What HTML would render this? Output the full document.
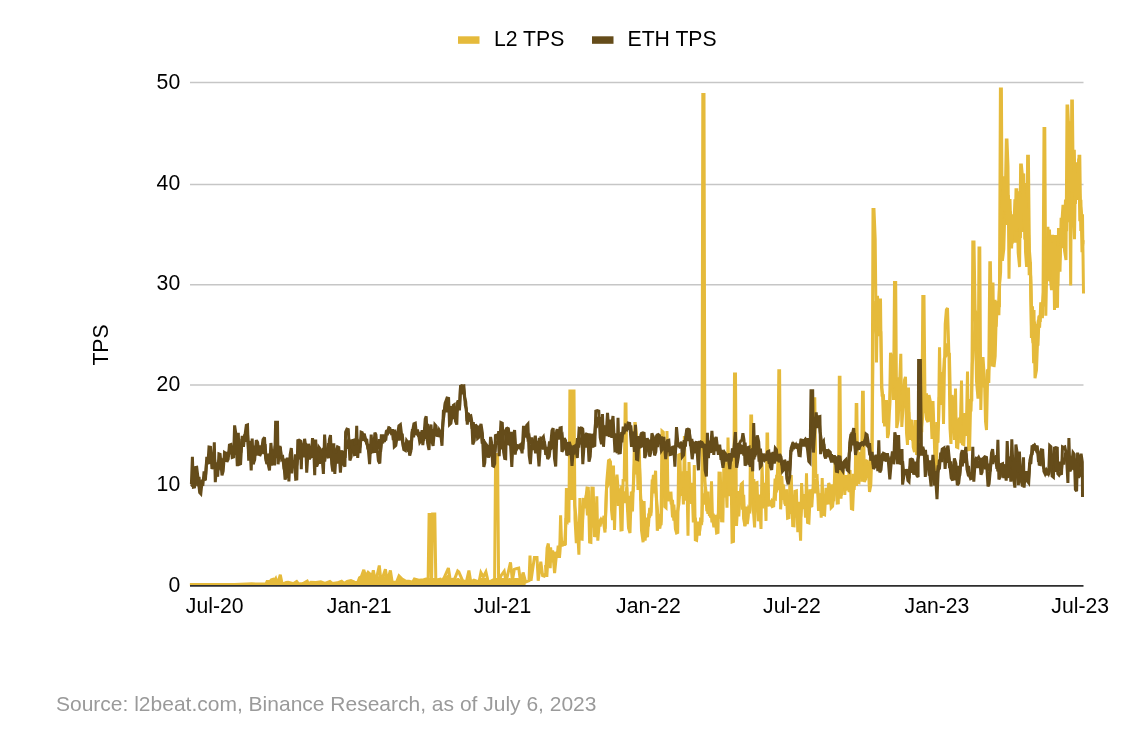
<!DOCTYPE html>
<html><head><meta charset="utf-8"><style>
html,body{margin:0;padding:0;background:#fff;width:1134px;height:730px;overflow:hidden}
svg{display:block;will-change:transform}
text{font-family:"Liberation Sans",sans-serif;fill:#000;font-size:21.2px}
.src{font-family:"Liberation Sans",sans-serif;fill:#9a9a9a;font-size:21px}
</style></head><body>
<svg width="1134" height="730" viewBox="0 0 1134 730">
<rect width="1134" height="730" fill="#fff"/>
<line x1="190" x2="1083.5" y1="485.40" y2="485.40" stroke="#c6c6c6" stroke-width="1.5"/><line x1="190" x2="1083.5" y1="385.10" y2="385.10" stroke="#c6c6c6" stroke-width="1.5"/><line x1="190" x2="1083.5" y1="284.70" y2="284.70" stroke="#c6c6c6" stroke-width="1.5"/><line x1="190" x2="1083.5" y1="184.50" y2="184.50" stroke="#c6c6c6" stroke-width="1.5"/><line x1="190" x2="1083.5" y1="82.45" y2="82.45" stroke="#c6c6c6" stroke-width="1.5"/>
<rect x="458" y="36.3" width="21.5" height="7.5" fill="#E5BA3B"/>
<text x="494" y="45.8">L2 TPS</text>
<rect x="592" y="36.3" width="21.5" height="7.5" fill="#654C1A"/>
<text x="627.5" y="45.8">ETH TPS</text>
<text x="180.2" y="592.0" text-anchor="end">0</text><text x="180.2" y="491.4" text-anchor="end">10</text><text x="180.2" y="390.8" text-anchor="end">20</text><text x="180.2" y="290.2" text-anchor="end">30</text><text x="180.2" y="189.6" text-anchor="end">40</text><text x="180.2" y="89.0" text-anchor="end">50</text>
<text x="214.7" y="613.2" text-anchor="middle">Jul-20</text><text x="359.2" y="613.2" text-anchor="middle">Jan-21</text><text x="502.5" y="613.2" text-anchor="middle">Jul-21</text><text x="648.5" y="613.2" text-anchor="middle">Jan-22</text><text x="791.9" y="613.2" text-anchor="middle">Jul-22</text><text x="937" y="613.2" text-anchor="middle">Jan-23</text><text x="1080.2" y="613.2" text-anchor="middle">Jul-23</text>
<text transform="translate(108.3,345) rotate(-90)" text-anchor="middle">TPS</text>
<polyline points="189.9,584.6 212.2,584.4 234.4,584.6 246.7,584.1 251.7,583.8 259.1,584.1 265.9,584.1 267.1,581.5 270.2,581.2 271.4,579.7 273.3,579.1 274.5,580.3 275.7,578.5 277.0,582.8 278.8,579.7 280.3,574.8 281.9,582.8 283.8,583.6 286.2,582.4 288.1,582.2 293.6,583.6 296.7,581.5 298.6,584.0 302.3,583.6 303.5,583.4 307.2,581.2 308.5,584.0 310.9,582.2 315.9,582.4 320.8,581.9 324.9,583.4 329.9,581.5 332.3,583.4 337.3,582.8 341.6,581.3 344.1,583.4 347.2,581.3 350.9,580.6 354.6,582.2 357.7,582.5 359.5,577.8 361.4,576.6 363.8,569.8 365.7,576.6 368.1,572.3 370.0,574.1 371.2,580.3 373.3,570.4 375.6,582.2 379.3,565.5 381.1,582.2 385.4,569.2 387.3,581.5 390.4,570.4 392.2,582.2 396.5,582.2 399.0,576.0 402.1,579.1 405.2,580.9 408.9,581.3 412.6,582.2 414.4,579.1 418.8,580.3 423.7,579.7 426.8,578.8 428.1,582.0 429.1,514.5 430.6,514.5 431.4,582.5 431.6,582.5 432.6,514.0 434.8,514.0 435.8,580.1 440.4,579.1 442.2,580.9 444.1,577.8 448.4,568.0 450.2,579.7 454.6,579.1 457.7,571.0 458.8,571.9 462.6,580.7 466.3,582.0 468.9,570.6 470.8,582.0 473.9,580.1 479.0,582.0 480.9,572.5 483.4,576.9 485.9,571.9 488.4,582.6 492.8,580.1 494.6,580.7 495.6,454.6 497.6,454.6 498.6,582.0 501.0,575.7 504.2,571.2 506.1,582.0 508.6,570.6 510.5,562.4 512.4,580.7 514.3,569.4 516.2,568.7 518.7,568.1 520.6,582.6 523.1,572.5 525.6,582.0 529.0,580.7 530.0,555.5 531.0,580.7 534.4,557.4 537.0,557.4 538.2,580.7 540.8,561.8 542.6,575.7 544.2,576.2 545.8,573.1 547.1,547.9 548.3,543.5 550.2,568.1 550.8,551.7 552.7,551.7 554.6,573.1 556.5,554.2 558.1,554.7 559.6,553.9 560.6,515.2 561.6,544.0 562.9,543.5 564.1,544.5 565.4,544.0 566.4,488.0 567.6,493.4 568.9,522.6 569.9,389.5 571.0,500.0 572.0,389.5 573.0,500.0 574.0,389.5 575.0,519.0 576.3,543.1 577.6,530.6 578.9,554.7 579.9,498.0 580.9,539.0 582.1,539.2 583.3,499.4 584.5,499.6 585.8,498.8 587.0,488.0 588.3,488.3 589.6,542.1 590.9,542.4 591.9,488.0 593.2,488.1 594.5,535.7 595.8,535.8 596.8,496.3 597.8,540.7 599.3,522.1 600.9,519.3 602.1,521.5 603.4,521.0 605.0,532.5 606.7,482.3 608.5,460.6 609.5,460.1 610.5,462.0 611.5,509.9 612.5,520.0 613.5,465.5 614.5,530.0 615.8,484.2 617.0,474.6 618.0,488.4 619.0,490.0 620.0,496.5 621.0,530.0 622.1,529.8 623.1,480.2 624.2,480.0 625.2,404.0 626.0,404.0 627.0,500.0 628.5,527.9 630.0,533.0 631.3,491.6 632.5,511.4 633.8,470.0 634.8,423.6 635.3,423.6 636.6,435.4 638.0,490.0 639.0,440.0 640.0,476.4 641.5,530.5 643.1,542.2 644.1,501.0 645.1,540.6 646.3,525.6 647.5,537.2 648.7,515.5 649.9,516.0 651.1,511.6 652.3,486.3 653.4,474.9 654.5,482.1 655.6,470.7 657.3,530.7 658.5,523.0 659.8,528.6 661.0,520.9 662.0,431.0 663.3,432.1 664.7,506.6 666.0,507.7 667.0,431.0 668.0,501.0 669.5,493.1 671.0,493.0 672.5,517.3 673.9,504.7 675.4,529.0 676.5,532.9 677.7,532.4 678.7,455.0 679.9,454.5 681.0,496.0 682.2,475.7 683.4,504.4 684.4,436.0 685.6,500.6 686.8,471.1 688.0,535.7 689.0,462.0 690.4,501.8 691.9,482.7 693.3,522.5 694.3,465.0 695.3,539.8 696.6,540.3 697.9,524.4 699.3,535.4 700.6,519.5 701.9,520.0 702.8,94.5 704.0,94.5 704.9,480.0 706.6,502.8 707.9,513.7 709.2,506.7 710.5,517.6 711.5,481.4 712.5,517.6 713.9,527.2 715.2,519.1 716.6,532.9 718.0,532.4 719.0,473.0 720.3,473.1 721.6,520.8 722.9,520.9 723.9,460.0 725.5,468.0 727.0,507.7 728.0,437.6 729.4,496.2 730.8,456.9 732.1,541.9 733.5,541.4 734.5,374.0 735.5,374.0 736.5,525.8 737.7,505.4 738.8,516.4 740.0,496.0 741.2,484.1 742.4,483.0 743.6,518.7 744.9,525.8 746.1,515.2 747.3,524.0 748.6,508.8 749.8,509.3 750.8,416.0 751.6,416.0 753.1,506.6 754.6,527.4 755.6,483.0 757.0,482.5 758.3,521.3 759.6,502.2 761.0,529.0 762.0,463.3 763.3,501.3 764.7,482.9 766.0,520.9 767.0,434.0 767.6,434.0 768.6,501.0 769.9,505.2 771.2,500.5 772.4,506.5 773.7,506.0 775.1,478.5 776.4,492.5 777.8,465.0 778.8,370.7 779.6,370.7 780.6,509.3 782.0,488.1 783.5,484.7 784.9,504.3 786.2,489.8 787.6,518.1 789.0,517.6 790.0,476.4 791.3,476.5 792.7,525.7 794.0,525.8 795.0,491.3 796.4,490.8 797.8,532.2 799.2,512.0 800.6,540.6 801.6,483.0 802.9,506.4 804.2,494.2 805.5,517.6 806.5,473.2 807.5,522.5 808.9,523.0 810.4,490.8 811.8,507.0 813.2,484.7 814.2,398.7 814.8,398.7 815.8,476.4 817.1,475.9 818.5,510.9 819.9,493.4 821.2,517.6 822.2,478.0 823.2,514.3 824.6,514.8 826.0,487.8 827.3,501.7 828.7,483.0 830.0,486.4 831.2,507.7 832.6,506.3 834.0,493.0 835.0,462.0 836.1,461.9 837.2,503.1 838.3,503.0 839.3,377.2 840.0,377.2 841.0,498.7 842.0,474.2 843.0,470.0 844.8,495.0 846.0,475.0 847.0,488.5 848.0,490.0 849.0,472.5 850.0,470.0 851.4,508.6 852.7,509.1 853.9,479.5 855.2,480.0 856.2,404.5 856.8,404.5 857.8,482.0 859.0,482.5 860.3,469.5 861.5,470.0 862.5,392.3 863.3,392.3 864.3,482.0 865.6,479.1 867.0,460.0 868.2,464.9 869.5,492.0 870.8,485.1 872.0,450.0 873.0,209.6 874.0,209.6 875.2,238.7 876.5,362.6 877.5,295.8 878.5,324.7 879.5,330.0 880.5,298.5 881.5,387.6 882.5,393.2 883.5,423.0 885.0,421.0 886.5,400.0 887.5,438.0 888.5,433.9 889.5,410.0 890.5,352.8 892.0,360.7 893.5,400.0 894.5,282.5 895.7,282.5 896.7,428.0 898.2,419.9 899.8,380.0 900.8,353.7 901.8,427.0 903.5,400.0 904.5,380.0 905.5,376.9 906.5,432.9 907.5,445.0 908.5,387.6 909.5,440.0 910.8,422.5 912.0,420.0 913.2,447.1 914.5,452.0 915.5,420.0 916.5,455.0 917.8,439.8 919.1,451.5 920.5,429.5 921.8,430.0 922.8,296.4 924.0,296.4 925.0,400.0 926.5,419.1 928.0,422.0 929.0,395.0 930.5,402.3 932.0,439.0 933.0,401.0 934.0,430.0 935.1,466.3 936.2,473.5 937.4,432.4 938.5,424.0 939.5,347.3 940.5,391.0 941.5,400.0 942.5,372.0 943.5,424.0 945.2,324.0 946.4,309.7 947.5,308.0 949.0,357.0 950.0,428.1 951.0,444.0 952.0,395.0 953.2,402.5 954.5,440.0 955.5,388.5 956.5,447.0 957.8,447.5 959.2,419.5 960.5,420.0 961.5,380.5 962.5,444.0 963.8,444.5 965.2,419.5 966.5,420.0 967.5,371.5 968.5,449.6 969.6,449.4 970.7,400.2 971.8,400.0 972.8,242.0 974.0,242.0 975.0,304.0 976.5,381.2 978.0,398.6 979.0,248.0 979.8,248.0 980.8,410.0 981.9,366.1 983.0,357.0 984.5,380.0 985.5,421.5 986.5,430.0 987.6,378.9 988.8,368.0 989.8,262.8 990.4,262.8 992.0,366.6 993.0,282.5 994.0,367.0 995.2,356.2 996.5,305.5 998.0,304.5 999.4,305.0 1000.4,89.0 1001.4,89.0 1002.4,260.7 1003.8,249.1 1005.3,195.0 1006.3,140.0 1007.0,140.0 1008.0,166.3 1009.0,278.8 1010.0,199.0 1011.0,236.5 1012.0,244.0 1013.0,216.0 1014.0,219.8 1015.0,242.6 1016.0,189.7 1016.8,189.7 1018.2,253.0 1019.6,267.0 1020.6,165.0 1021.4,165.0 1022.5,176.9 1023.5,232.0 1024.5,183.0 1025.5,251.7 1026.6,267.0 1027.6,156.2 1028.4,156.2 1029.4,250.0 1030.5,263.9 1031.5,327.0 1033.0,343.0 1034.0,310.0 1035.0,378.2 1036.5,370.1 1038.0,330.0 1039.0,317.3 1040.0,316.0 1041.5,314.3 1043.0,300.0 1044.0,128.5 1044.8,128.5 1045.8,315.8 1046.9,261.7 1048.0,250.0 1049.5,229.5 1050.5,279.4 1051.5,290.0 1052.5,234.9 1053.5,248.4 1054.5,310.0 1055.5,234.9 1056.5,294.7 1057.5,307.8 1058.5,228.0 1059.5,267.3 1060.5,234.4 1061.5,228.0 1063.0,204.8 1064.5,250.5 1066.0,260.0 1067.0,106.0 1067.7,106.0 1069.2,140.4 1070.7,285.4 1071.7,101.0 1072.4,101.0 1073.5,213.1 1074.5,239.3 1075.5,163.7 1076.8,169.5 1078.0,200.0 1079.0,156.2 1079.8,156.2 1080.8,231.0 1082.5,214.3 1083.5,293.6" fill="none" stroke="#E5BA3B" stroke-width="3" stroke-linejoin="miter" stroke-miterlimit="3"/>
<polygon points="189.9,584.6 212.2,584.4 234.4,584.6 246.7,584.1 251.7,583.8 259.1,584.1 265.9,584.1 267.1,581.5 270.2,581.2 271.4,579.7 273.3,579.1 274.5,580.3 275.7,578.5 277.0,582.8 278.8,579.7 280.3,574.8 281.9,582.8 283.8,583.6 286.2,582.4 288.1,582.2 293.6,583.6 296.7,581.5 298.6,584.0 302.3,583.6 303.5,583.4 307.2,581.2 308.5,584.0 310.9,582.2 315.9,582.4 320.8,581.9 324.9,583.4 329.9,581.5 332.3,583.4 337.3,582.8 341.6,581.3 344.1,583.4 347.2,581.3 350.9,580.6 354.6,582.2 357.7,582.5 359.5,577.8 361.4,576.6 363.8,574.0 365.7,576.6 368.1,574.0 370.0,574.1 371.2,580.3 373.3,574.0 375.6,582.2 379.3,574.0 381.1,582.2 385.4,574.0 387.3,581.5 390.4,574.0 392.2,582.2 396.5,582.2 399.0,576.0 402.1,579.1 405.2,580.9 408.9,581.3 412.6,582.2 414.4,579.1 418.8,580.3 423.7,579.7 426.8,578.8 428.1,582.0 429.1,578.0 430.6,578.0 431.4,582.5 431.6,582.5 432.6,578.0 434.8,578.0 435.8,580.1 440.4,579.1 442.2,580.9 444.1,577.8 448.4,574.0 450.2,579.7 454.6,579.1 457.7,578.0 458.8,578.0 462.6,580.7 466.3,582.0 468.9,578.0 470.8,582.0 473.9,580.1 479.0,582.0 480.9,578.0 483.4,578.0 485.9,578.0 488.4,582.6 492.8,580.1 494.6,580.7 495.6,578.0 497.6,578.0 498.6,582.0 501.0,578.0 504.2,578.0 506.1,582.0 508.6,578.0 510.5,578.0 512.4,580.7 514.3,578.0 516.2,578.0 518.7,578.0 520.6,582.6 523.1,578.0 525.6,582.0 525.6,585.3 189.9,585.3" fill="#E5BA3B" stroke="none"/>
<polyline points="545.5,565.0 546.8,576.9 548.1,556.4 549.3,557.0 550.6,547.4 551.9,562.2 553.2,552.0 554.4,556.9 555.7,552.0 557.0,557.8 558.2,545.7 559.5,557.9 560.8,537.3 562.0,546.3 563.3,541.0 564.6,545.6 565.9,520.9 567.1,521.9 568.4,492.1 569.7,498.1 570.9,447.7 572.2,455.4 573.5,445.7 574.7,505.3 576.0,516.8 577.3,536.3 578.6,521.9 579.8,538.2 581.1,519.4 582.4,522.6 583.6,500.0 584.9,508.2 586.2,495.5 587.4,515.4 588.7,490.7 590.0,509.4 591.3,501.0 592.5,527.4 593.8,506.3 595.1,527.3 596.3,514.3 597.6,532.5 598.9,520.6 600.1,526.5 601.4,518.2 602.7,523.1 604.0,515.8 605.2,528.7 606.5,488.4 607.8,485.1 609.0,469.4 610.3,485.4 611.6,468.5 612.8,502.1 614.1,484.9 615.4,502.6 616.7,483.8 617.9,505.9 619.2,492.7 620.5,506.7 621.7,485.7 623.0,503.2 624.3,491.4 625.5,503.2 626.8,487.4 628.1,512.0 629.4,495.8 630.6,512.8 631.9,493.9 633.2,490.8 634.4,464.4 635.7,474.3 637.0,455.9 638.2,473.1 639.5,467.0 640.8,499.3 642.1,502.0 643.3,526.7 644.6,520.6 645.9,537.6 647.1,517.5 648.4,526.4 649.7,507.9 650.9,515.8 652.2,479.5 653.5,493.4 654.8,478.4 656.0,493.2 657.3,507.5 658.6,525.4 659.8,514.0 661.1,525.3 662.4,487.6 663.6,486.1 664.9,465.1 666.2,484.9 667.5,489.8 668.7,501.0 670.0,493.6 671.3,504.4 672.5,499.9 673.8,520.6 675.1,510.5 676.3,524.8 677.6,511.2 678.9,504.3 680.2,485.5 681.4,486.7 682.7,471.3 684.0,487.3 685.2,480.3 686.5,489.7 687.8,475.3 689.0,501.0 690.3,493.0 691.6,503.8 692.9,487.9 694.1,517.2 695.4,518.7 696.7,534.4 697.9,521.6 699.2,535.4 700.5,520.8 701.7,522.1 703.0,493.4 704.3,504.6 705.6,487.2 706.8,511.1 708.1,491.7 709.4,516.0 710.6,502.7 711.9,522.3 713.2,513.7 714.4,525.8 715.7,514.9 717.0,527.4 718.3,513.7 719.5,518.7 720.8,490.3 722.1,494.1 723.3,482.2 724.6,497.5 725.9,473.1 727.1,481.3 728.4,468.5 729.7,495.6 731.0,471.4 732.2,478.2 733.5,485.7 734.8,517.7 736.0,505.1 737.3,503.8 738.6,491.2 739.8,503.0 741.1,496.4 742.4,509.7 743.7,494.8 744.9,526.5 746.2,506.7 747.5,523.1 748.7,508.5 750.0,510.3 751.3,493.9 752.5,496.6 753.8,479.2 755.1,501.1 756.4,490.5 757.6,510.8 758.9,494.7 760.2,507.5 761.4,497.9 762.7,508.4 764.0,487.2 765.2,491.6 766.5,481.7 767.8,506.3 769.1,501.1 770.3,503.9 771.6,501.2 772.9,503.9 774.1,498.2 775.4,498.9 776.7,474.9 777.9,490.1 779.2,475.7 780.5,493.5 781.8,476.2 783.0,499.8 784.3,490.1 785.6,505.9 786.8,489.3 788.1,502.3 789.4,495.0 790.6,514.0 791.9,498.5 793.2,504.2 794.5,495.0 795.7,517.5 797.0,507.4 798.3,524.2 799.5,501.8 800.8,516.6 802.1,501.7 803.3,509.1 804.6,497.8 805.9,514.9 807.2,502.9 808.4,513.4 809.7,489.4 811.0,507.3 812.2,489.0 813.5,493.2 814.8,478.7 816.0,493.4 817.3,481.3 818.6,499.4 819.9,493.6 821.1,509.8 822.4,500.5 823.7,513.2 824.9,495.9 826.2,504.6 827.5,492.7 828.7,504.4 830.0,491.2 831.3,500.5 832.6,484.3 833.8,501.2 835.1,487.0 836.4,487.8 837.6,475.4 838.9,489.7 840.2,471.2 841.4,495.8 842.7,469.8 844.0,485.7 845.3,477.8 846.5,487.5 847.8,476.7 849.1,492.1 850.3,481.0 851.6,493.9 852.9,473.8 854.1,489.8 855.4,473.8 856.7,485.9 858.0,463.4 859.2,478.5 860.5,451.7 861.8,481.6 863.0,465.9 864.3,471.7 865.6,459.4 866.8,477.8 868.1,465.9 869.4,477.7 870.7,452.9 871.9,463.9 873.2,334.6 874.5,319.7 875.7,301.0 877.0,314.6 878.3,312.1 879.5,336.2 880.8,331.3 882.1,396.4 883.4,394.4 884.6,426.5 885.9,410.8 887.2,420.9 888.4,406.8 889.7,407.5 891.0,378.5 892.2,383.8 893.5,364.2 894.8,385.0 896.1,383.2 897.3,390.6 898.6,377.4 899.9,410.1 901.1,395.1 902.4,400.6 903.7,385.9 904.9,406.6 906.2,397.8 907.5,417.7 908.8,412.1 910.0,433.0 911.3,421.0 912.6,440.9 913.8,427.5 915.1,443.9 916.4,436.4 917.6,445.2 918.9,430.9 920.2,448.6 921.5,427.3 922.7,416.8 924.0,401.1 925.3,413.2 926.5,393.3 927.8,420.5 929.1,402.9 930.3,421.4 931.6,408.8 932.9,431.9 934.2,425.7 935.4,446.2 936.7,422.2 938.0,442.8 939.2,397.2 940.5,404.8 941.8,380.3 943.0,381.5 944.3,358.6 945.6,356.1 946.9,343.5 948.1,354.7 949.4,354.5 950.7,410.1 951.9,398.3 953.2,427.7 954.5,418.3 955.7,439.2 957.0,418.8 958.3,435.1 959.6,418.5 960.8,443.3 962.1,425.8 963.4,435.5 964.6,413.0 965.9,436.0 967.2,418.1 968.4,430.4 969.7,407.4 971.0,411.4 972.3,364.0 973.5,350.2 974.8,328.2 976.1,312.3 977.3,313.6 978.6,352.0 979.9,355.0 981.1,380.9 982.4,366.7 983.7,387.4 985.0,383.2 986.2,390.0 987.5,369.3 988.8,382.9 990.0,334.1 991.3,347.5 992.6,322.0 993.8,325.3 995.1,311.6 996.4,310.7 997.7,301.1 998.9,315.1 1000.2,260.7 1001.5,240.7 1002.7,190.9 1004.0,191.4 1005.3,192.1 1006.5,219.4 1007.8,196.1 1009.1,213.6 1010.4,215.7 1011.6,236.7 1012.9,218.0 1014.2,226.2 1015.4,221.5 1016.7,231.5 1018.0,208.0 1019.2,209.4 1020.5,200.8 1021.8,218.1 1023.1,205.0 1024.3,211.6 1025.6,199.0 1026.9,225.7 1028.1,221.4 1029.4,263.5 1030.7,276.4 1031.9,322.8 1033.2,322.0 1034.5,344.2 1035.8,329.0 1037.0,344.3 1038.3,319.9 1039.6,327.7 1040.8,302.2 1042.1,311.4 1043.4,293.1 1044.6,289.8 1045.9,242.3 1047.2,256.8 1048.5,244.6 1049.7,267.8 1051.0,255.7 1052.3,260.3 1053.5,260.5 1054.8,277.0 1056.1,261.4 1057.3,278.6 1058.6,248.5 1059.9,257.5 1061.2,229.2 1062.4,242.6 1063.7,221.6 1065.0,221.4 1066.2,204.0 1067.5,222.3 1068.8,183.7 1070.0,165.8 1071.3,160.0 1072.6,187.5 1073.9,173.6 1075.1,186.0 1076.4,162.3 1077.7,191.6 1078.9,183.8 1080.2,204.3 1081.5,212.6 1082.7,244.0" fill="none" stroke="#E5BA3B" stroke-width="3" stroke-linejoin="miter" stroke-miterlimit="3"/>
<polyline points="990.7,304.7 991.8,349.2 992.9,304.3 994.0,358.7 995.1,299.7 996.2,326.6 997.3,302.6 998.4,310.9 999.5,283.4 1000.6,272.3 1001.7,196.8 1002.8,209.9 1003.9,176.4 1005.0,211.2 1006.1,183.7 1007.2,224.9 1008.3,195.1 1009.4,228.0 1010.5,211.4 1011.6,248.4 1012.7,214.4 1013.8,230.3 1014.9,199.4 1016.0,230.3 1017.1,203.6 1018.2,227.8 1019.3,191.4 1020.4,238.0 1021.5,197.3 1022.6,212.9 1023.7,173.4 1024.8,239.6 1025.9,197.2 1027.0,238.8 1028.1,208.7 1029.2,275.2 1030.3,261.9 1031.4,338.0 1032.5,306.2 1033.6,363.2 1034.7,321.5 1035.8,352.8 1036.9,323.9 1038.0,345.8 1039.1,315.5 1040.2,321.9 1041.3,302.8 1042.4,318.1 1043.5,294.9 1044.6,306.5 1045.7,237.6 1046.8,261.5 1047.9,226.9 1049.0,281.3 1050.1,240.5 1051.2,270.5 1052.3,243.0 1053.4,278.2 1054.5,240.1 1055.6,281.0 1056.7,246.4 1057.8,286.1 1058.9,246.4 1060.0,271.6 1061.1,217.7 1062.2,248.3 1063.3,222.9 1064.4,229.2 1065.5,199.6 1066.6,231.2 1067.7,188.1 1068.8,214.1 1069.9,121.2 1071.0,191.5 1072.1,180.2 1073.2,192.6 1074.3,149.7 1075.4,204.0 1076.5,173.2 1077.6,197.6 1078.7,158.6 1079.8,221.1 1080.9,199.7 1082.0,252.1 1083.1,240.2" fill="none" stroke="#E5BA3B" stroke-width="3" stroke-linejoin="miter" stroke-miterlimit="3"/>
<polyline points="191.4,484.0 192.4,456.9 193.4,487.1 194.5,486.9 195.6,467.5 196.7,467.3 198.6,482.7 199.7,492.6 200.8,493.8 202.1,481.2 203.5,479.1 204.6,479.3 205.7,474.1 206.8,456.8 207.9,464.3 209.0,447.0 210.5,447.2 211.9,467.7 213.3,468.0 214.3,442.3 215.3,482.1 216.5,466.8 217.7,476.7 218.9,453.9 220.1,454.4 222.0,475.4 223.2,471.1 224.5,452.5 225.7,453.4 226.9,461.8 228.2,459.1 229.4,445.1 230.8,444.6 232.2,457.4 233.6,456.9 234.6,425.4 235.9,434.1 237.3,466.1 238.3,432.8 239.3,464.3 240.6,463.7 241.9,440.1 243.2,439.6 244.7,437.5 246.3,425.4 247.5,424.9 248.7,460.7 250.0,446.4 251.2,470.4 252.2,438.6 253.2,464.3 254.7,459.7 256.3,440.2 257.6,442.3 259.0,454.4 260.2,454.9 261.4,451.9 263.0,439.5 264.5,437.4 265.6,458.1 266.6,463.0 268.0,463.4 269.5,470.4 270.9,443.0 272.2,457.6 273.4,450.9 274.6,465.5 275.6,422.3 277.5,422.3 278.1,464.3 279.9,445.8 281.2,457.0 282.4,458.7 283.8,462.4 285.1,479.7 286.2,475.6 287.3,457.5 288.9,481.5 290.1,454.9 291.3,448.0 292.4,461.7 293.5,464.3 294.6,464.0 295.7,479.3 296.8,479.1 297.8,440.6 299.1,440.1 300.3,440.8 301.3,469.2 301.8,453.0 303.2,451.0 304.6,438.8 305.7,445.8 306.7,472.7 308.6,443.8 310.4,458.0 311.5,454.5 312.5,438.2 313.6,446.0 314.7,475.2 315.7,439.5 316.7,466.6 317.9,463.3 319.0,447.5 320.3,449.3 321.8,454.0 323.4,474.0 324.6,434.5 325.7,451.7 326.8,455.5 328.3,458.0 329.4,439.3 330.5,435.1 331.7,463.9 332.8,471.5 333.8,443.2 334.8,474.0 336.2,452.1 337.5,446.9 338.8,447.5 340.4,472.7 342.1,450.6 343.5,464.1 344.9,466.6 345.6,432.1 346.9,429.1 348.3,429.6 349.9,460.4 351.1,457.0 352.3,440.7 353.4,440.3 354.5,454.6 355.7,454.3 356.7,425.9 357.7,458.0 358.8,443.8 359.9,453.1 361.1,432.2 362.2,432.7 363.4,436.3 364.7,435.8 366.5,443.2 368.1,446.9 369.6,464.1 371.2,434.5 372.3,449.9 373.3,453.0 374.9,432.7 375.9,434.7 377.0,446.9 378.4,460.8 379.8,463.5 381.3,435.8 382.9,435.8 384.4,441.9 386.2,432.1 387.5,432.6 388.7,427.9 389.9,428.4 391.2,433.5 392.4,429.4 393.6,434.5 394.3,446.9 395.8,445.6 397.3,435.8 398.9,425.9 400.4,424.7 402.3,440.7 403.8,449.6 405.4,450.6 406.6,440.7 408.1,442.9 409.7,455.5 410.9,451.1 412.1,432.1 412.5,431.4 413.9,423.8 415.3,423.2 416.3,432.9 417.3,434.2 418.6,434.7 419.8,442.4 421.0,440.8 422.1,430.1 422.8,445.1 424.2,432.8 425.2,419.0 426.2,416.4 427.6,443.0 429.0,449.9 430.0,429.4 431.0,424.6 432.1,442.0 433.1,445.8 434.9,424.6 436.0,425.8 437.2,435.5 438.2,435.7 439.2,430.1 440.6,432.5 442.0,445.8 443.4,410.9 444.4,410.3 445.4,402.7 447.0,398.1 448.6,398.5 449.5,424.6 450.9,423.3 452.3,413.6 453.3,405.4 454.3,404.7 455.5,421.1 456.8,424.6 457.7,401.3 459.5,409.5 460.5,386.2 461.6,385.7 462.8,386.7 463.9,386.2 465.3,405.4 466.3,408.7 467.3,424.6 468.0,414.3 469.4,416.2 470.8,415.7 471.8,421.4 472.8,444.4 474.2,441.0 475.5,424.6 476.6,426.5 477.6,438.3 478.6,437.4 479.7,428.7 481.0,423.9 482.4,433.2 483.8,467.0 484.8,462.7 485.8,443.8 487.2,445.7 488.6,457.5 489.6,453.8 490.6,436.9 491.6,442.6 492.7,465.7 493.7,466.2 494.7,463.6 495.4,435.5 496.8,435.0 498.2,435.5 499.2,456.1 500.9,422.5 502.3,423.2 503.6,452.0 504.7,458.6 505.7,458.8 506.4,428.7 507.4,428.2 508.4,428.7 509.5,441.5 510.5,443.8 511.8,467.0 513.2,437.8 514.6,430.1 515.6,445.9 516.6,449.2 518.0,446.7 519.4,447.2 520.8,445.1 522.1,453.3 523.5,425.9 524.5,434.8 525.5,435.7 526.7,425.4 527.9,424.0 529.2,455.5 530.4,464.1 531.6,445.9 532.9,441.9 534.1,441.8 535.3,435.7 536.6,446.8 537.8,450.2 539.0,466.5 540.9,438.2 542.1,438.7 543.4,436.9 545.2,448.0 546.4,449.3 547.7,459.1 549.2,456.6 550.8,443.1 552.0,430.5 553.2,428.3 554.5,458.5 555.7,466.5 556.9,433.2 558.8,435.1 560.0,428.0 561.2,427.7 561.9,451.7 563.1,449.8 564.3,438.2 565.6,441.0 566.8,455.4 568.0,453.5 569.3,441.9 570.6,446.4 572.0,465.9 573.6,446.8 575.4,445.6 577.3,457.9 579.1,428.3 580.4,428.8 581.6,427.1 582.8,464.1 584.7,435.7 586.2,434.0 587.7,434.5 589.0,461.6 590.2,456.6 591.4,435.7 592.6,435.2 593.7,446.1 594.8,445.6 595.8,411.0 597.3,410.5 598.8,411.0 600.2,437.5 601.5,444.3 602.5,414.1 603.5,446.8 604.9,425.5 606.2,434.2 607.5,412.9 609.3,436.9 611.2,429.5 613.0,416.0 614.9,450.5 616.1,450.0 617.3,453.0 618.0,417.8 619.0,453.0 620.3,452.8 621.6,433.4 622.9,433.2 624.1,433.0 625.4,426.4 626.6,428.3 628.1,423.1 629.7,423.4 631.5,446.8 632.8,432.0 634.5,451.8 635.5,424.7 636.5,459.2 637.8,459.7 639.1,438.3 640.4,447.7 641.6,433.3 642.9,432.8 644.1,433.3 644.7,458.0 646.0,454.5 647.2,438.2 648.4,441.3 649.7,456.7 650.8,452.4 651.9,433.3 653.2,437.3 654.6,455.5 655.8,451.9 657.1,435.1 658.3,434.6 659.5,435.8 661.4,450.6 662.6,448.7 663.8,437.0 665.7,459.2 667.5,440.7 668.8,440.3 670.0,454.6 671.2,454.3 672.5,447.2 673.7,446.9 674.9,466.6 676.5,427.1 678.0,444.4 679.3,446.1 680.5,443.9 681.7,445.6 682.3,456.7 683.6,455.1 684.8,444.4 686.7,429.6 687.9,429.1 689.1,429.6 690.4,440.7 692.2,459.2 694.1,443.2 695.3,443.7 696.5,441.3 698.4,470.3 699.6,444.4 700.8,442.0 702.1,442.5 703.9,445.6 705.1,470.2 706.4,476.4 707.4,432.7 708.4,458.0 709.6,440.6 710.7,448.2 711.9,430.8 713.8,454.9 715.0,440.0 716.2,437.0 717.5,447.7 718.7,449.3 719.9,449.4 721.2,455.5 723.0,467.8 724.9,453.0 726.4,455.4 728.0,454.9 729.8,469.1 731.0,456.5 732.3,454.3 733.8,450.2 735.4,432.1 736.6,467.8 738.4,456.7 739.7,443.2 740.9,440.7 741.9,440.3 742.9,433.2 744.0,439.8 745.1,465.6 746.5,462.6 747.9,447.6 749.1,447.1 750.3,466.9 751.5,458.0 752.7,471.3 753.7,423.1 754.7,456.9 756.0,453.0 757.3,435.4 758.7,441.8 760.2,467.0 761.3,465.6 762.3,455.5 763.5,455.0 764.7,460.3 765.9,459.8 767.4,451.8 768.8,451.2 770.3,466.7 771.7,469.9 772.9,455.8 774.1,462.4 775.3,448.3 776.4,449.7 777.4,459.8 778.5,459.9 779.6,454.1 781.0,456.9 782.5,471.3 783.6,470.0 784.6,459.8 785.7,463.0 786.8,478.5 788.2,484.3 789.7,476.8 791.1,448.3 792.6,443.6 794.0,444.0 795.4,445.9 796.9,445.4 797.9,446.4 799.0,455.5 800.2,455.7 801.4,440.2 802.6,440.4 804.1,440.9 805.5,439.0 806.6,440.5 807.7,451.2 808.8,461.3 810.0,462.7 811.0,390.8 812.7,390.8 813.4,452.6 814.9,428.2 815.9,418.0 817.0,416.7 818.5,417.2 819.9,416.7 820.6,454.1 822.1,442.9 823.5,441.1 824.6,455.6 825.6,458.4 826.8,452.7 828.0,456.9 829.2,451.2 830.3,452.2 831.4,461.3 832.8,461.3 834.3,455.5 835.4,458.0 836.4,471.3 837.6,471.6 838.8,456.6 840.0,456.9 841.5,469.2 842.9,471.3 844.4,461.2 845.8,459.8 847.2,470.0 848.7,471.3 849.7,442.7 850.8,435.1 852.3,434.9 853.7,428.1 855.5,454.9 856.6,448.2 857.8,447.9 859.3,448.3 860.7,443.3 862.2,442.8 863.6,444.4 864.8,443.3 866.0,434.0 867.1,434.8 868.3,443.3 869.7,454.4 871.2,456.1 872.4,457.8 873.5,468.9 874.7,466.9 875.8,454.9 876.8,457.5 877.8,471.2 878.8,440.4 879.8,472.4 881.0,469.8 882.3,456.1 883.4,453.3 884.6,453.8 886.3,459.6 888.1,458.4 889.8,479.4 891.6,458.4 892.7,458.9 893.9,458.4 894.8,432.2 896.2,438.7 897.6,464.2 898.6,435.1 899.6,464.2 900.8,462.0 902.0,449.1 902.6,484.6 904.4,472.4 905.5,470.7 906.7,471.2 907.9,480.6 909.0,481.7 910.2,459.6 911.4,459.1 912.5,459.6 913.7,474.7 915.4,464.2 916.8,475.3 918.1,477.0 918.6,360.6 920.4,360.6 921.4,449.1 922.8,448.6 924.2,451.4 925.3,477.0 927.1,454.9 928.2,467.8 929.4,470.1 931.1,486.4 932.9,454.9 934.6,475.9 935.8,480.2 937.0,499.2 938.1,473.6 939.3,460.7 940.8,459.3 942.2,449.1 944.0,447.9 945.1,468.9 946.6,449.9 948.0,445.6 949.8,464.2 951.2,478.0 952.7,480.5 954.4,458.4 955.9,463.6 957.3,485.2 958.7,483.2 960.0,471.3 961.2,454.0 962.3,450.3 964.1,463.1 965.8,446.8 967.0,469.3 968.2,474.7 969.4,474.2 970.6,478.7 971.8,478.2 972.8,446.8 973.8,481.7 975.1,462.8 976.3,458.4 977.5,458.9 978.6,457.3 979.8,460.1 981.0,474.7 982.1,472.2 983.3,458.4 984.8,456.8 986.2,457.3 988.0,486.4 989.1,483.8 990.3,470.1 991.5,452.9 992.6,449.1 994.0,462.2 995.4,455.9 996.9,468.9 997.9,439.8 998.9,479.4 1000.1,477.1 1001.4,464.3 1002.6,463.8 1003.8,478.0 1005.0,470.9 1006.2,480.6 1007.2,441.0 1008.4,466.2 1009.6,456.5 1010.8,481.7 1011.8,439.2 1013.4,477.0 1014.9,487.6 1015.9,444.5 1017.2,453.2 1018.4,485.2 1019.4,451.5 1020.9,479.2 1022.5,486.4 1023.5,457.3 1024.1,487.6 1025.2,473.8 1026.4,471.3 1027.6,481.5 1028.7,482.9 1029.9,460.4 1031.1,454.9 1032.2,454.1 1033.4,445.6 1034.5,445.1 1035.7,448.5 1036.9,448.0 1038.0,450.5 1039.2,464.3 1040.4,464.6 1041.5,450.0 1042.7,450.3 1043.9,471.3 1045.1,473.9 1046.3,470.8 1047.5,474.1 1048.7,473.6 1049.7,445.6 1050.9,446.7 1052.1,476.0 1053.4,477.1 1054.4,448.0 1055.8,447.5 1057.3,448.0 1057.8,473.6 1059.1,475.2 1060.3,473.1 1061.5,474.7 1062.5,446.8 1063.7,447.3 1064.8,446.8 1066.4,454.3 1067.9,482.9 1068.9,438.1 1069.9,471.3 1071.4,468.1 1073.0,452.6 1074.2,454.3 1075.4,489.4 1076.6,491.1 1077.6,452.6 1078.6,478.2 1079.9,458.4 1081.1,453.8 1082.3,461.9 1082.5,496.9" fill="none" stroke="#654C1A" stroke-width="3" stroke-linejoin="miter" stroke-miterlimit="3"/>
<polyline points="191.4,484.0 192.7,486.2 193.9,469.9 195.2,480.0 196.5,472.8 197.7,486.2 199.0,477.0 200.3,490.2 201.6,480.4 202.8,485.9 204.1,471.3 205.4,480.3 206.6,462.0 207.9,461.8 209.2,454.5 210.4,463.7 211.7,452.6 213.0,467.8 214.3,457.2 215.5,467.4 216.8,462.6 218.1,470.3 219.3,460.3 220.6,469.3 221.9,458.5 223.1,462.2 224.4,457.6 225.7,460.8 227.0,451.9 228.2,456.8 229.5,450.2 230.8,454.1 232.0,446.4 233.3,452.1 234.6,446.5 235.8,454.8 237.1,445.7 238.4,457.3 239.7,445.8 240.9,452.6 242.2,435.8 243.5,446.9 244.7,434.5 246.0,441.8 247.3,431.1 248.5,449.4 249.8,440.8 251.1,459.2 252.4,447.4 253.6,459.9 254.9,445.7 256.2,455.4 257.4,447.7 258.7,454.5 260.0,445.4 261.2,453.4 262.5,449.1 263.8,453.9 265.1,444.0 266.3,461.1 267.6,453.8 268.9,462.6 270.1,453.5 271.4,465.6 272.7,449.4 273.9,455.2 275.2,445.6 276.5,458.2 277.8,445.5 279.0,455.4 280.3,446.9 281.6,459.1 282.8,457.8 284.1,469.4 285.4,458.7 286.6,474.8 287.9,464.4 289.2,468.3 290.5,458.0 291.7,473.4 293.0,460.2 294.3,468.2 295.5,454.4 296.8,465.3 298.1,455.0 299.3,459.3 300.6,440.5 301.9,446.4 303.2,443.6 304.4,457.4 305.7,443.2 307.0,453.5 308.2,445.6 309.5,459.6 310.8,445.9 312.0,457.9 313.3,446.1 314.6,459.7 315.9,447.4 317.1,457.7 318.4,452.9 319.7,463.9 320.9,451.1 322.2,455.8 323.5,448.0 324.7,461.5 326.0,451.1 327.3,454.1 328.6,443.3 329.8,458.1 331.1,450.0 332.4,461.2 333.6,453.7 334.9,459.9 336.2,454.1 337.4,463.6 338.7,451.0 340.0,462.8 341.3,450.3 342.5,464.6 343.8,452.9 345.1,457.9 346.3,440.4 347.6,448.7 348.9,438.9 350.1,445.5 351.4,439.9 352.7,450.6 354.0,445.5 355.2,451.7 356.5,445.1 357.8,449.8 359.0,442.4 360.3,444.2 361.6,435.6 362.8,440.6 364.1,433.6 365.4,441.6 366.7,438.8 367.9,449.3 369.2,444.1 370.5,453.8 371.7,443.2 373.0,447.4 374.3,441.1 375.5,452.8 376.8,443.8 378.1,449.0 379.4,439.1 380.6,451.8 381.9,439.2 383.2,440.8 384.4,435.3 385.7,440.5 387.0,430.0 388.2,432.4 389.5,429.4 390.8,432.3 392.1,429.9 393.3,440.2 394.6,429.8 395.9,438.5 397.1,431.4 398.4,440.5 399.7,430.2 400.9,440.3 402.2,433.7 403.5,447.7 404.8,442.7 406.0,448.7 407.3,443.2 408.6,451.7 409.8,440.5 411.1,449.6 412.4,429.0 413.6,437.3 414.9,426.1 416.2,434.9 417.5,429.5 418.7,436.8 420.0,432.0 421.3,437.8 422.5,430.7 423.8,440.7 425.1,427.3 426.3,438.8 427.6,424.0 428.9,439.3 430.2,429.5 431.4,441.7 432.7,429.2 434.0,436.1 435.2,430.9 436.5,435.8 437.8,430.8 439.0,435.5 440.3,432.2 441.6,438.4 442.9,423.0 444.1,414.0 445.4,401.8 446.7,412.4 447.9,398.4 449.2,410.6 450.5,406.2 451.7,415.6 453.0,407.0 454.3,419.1 455.6,406.7 456.8,411.5 458.1,400.2 459.4,410.4 460.6,385.6 461.9,394.2 463.2,384.6 464.4,396.5 465.7,401.8 467.0,421.1 468.3,413.1 469.5,419.9 470.8,418.7 472.1,428.9 473.3,422.1 474.6,435.7 475.9,428.9 477.1,436.2 478.4,425.7 479.7,435.9 481.0,431.6 482.2,443.7 483.5,439.1 484.8,455.7 486.0,446.7 487.3,457.4 488.6,446.2 489.8,455.7 491.1,451.3 492.4,457.1 493.7,444.4 494.9,451.9 496.2,441.4 497.5,444.5 498.7,431.2 500.0,441.4 501.3,431.1 502.5,449.5 503.8,429.8 505.1,433.0 506.4,433.2 507.6,445.2 508.9,433.9 510.2,445.9 511.4,431.9 512.7,447.0 514.0,442.8 515.2,454.5 516.5,444.6 517.8,447.4 519.1,445.8 520.3,448.1 521.6,445.4 522.9,449.3 524.1,431.3 525.4,435.0 526.7,425.9 527.9,438.2 529.2,436.4 530.5,444.5 531.8,437.4 533.0,450.1 534.3,442.7 535.6,453.2 536.8,441.0 538.1,453.3 539.4,438.0 540.6,449.0 541.9,440.6 543.2,449.5 544.5,441.5 545.7,454.9 547.0,447.0 548.3,451.9 549.5,441.4 550.8,449.9 552.1,440.0 553.3,448.7 554.6,434.5 555.9,436.1 557.2,429.1 558.4,439.5 559.7,429.4 561.0,436.5 562.2,435.1 563.5,449.0 564.8,439.1 566.0,449.4 567.3,442.1 568.6,454.9 569.9,449.3 571.1,453.6 572.4,445.7 573.7,454.4 574.9,447.8 576.2,451.5 577.5,438.1 578.7,447.6 580.0,437.7 581.3,444.5 582.6,427.8 583.8,439.9 585.1,434.4 586.4,447.5 587.6,436.1 588.9,440.7 590.2,433.6 591.4,444.6 592.7,437.6 594.0,443.7 595.3,426.2 596.5,426.5 597.8,417.0 599.1,420.7 600.3,417.2 601.6,431.8 602.9,425.0 604.1,433.3 605.4,425.8 606.7,436.0 608.0,426.7 609.2,433.0 610.5,419.7 611.8,437.8 613.0,429.5 614.3,437.9 615.6,433.5 616.8,450.7 618.1,444.5 619.4,450.0 620.7,433.9 621.9,442.4 623.2,426.6 624.5,431.8 625.7,426.7 627.0,428.9 628.3,425.5 629.5,429.8 630.8,425.3 632.1,439.1 633.4,431.7 634.6,445.0 635.9,440.7 637.2,452.3 638.4,436.2 639.7,448.3 641.0,433.7 642.2,447.4 643.5,433.7 644.8,443.5 646.1,439.4 647.3,449.2 648.6,439.7 649.9,449.2 651.1,441.9 652.4,450.4 653.7,436.8 654.9,447.4 656.2,435.3 657.5,447.1 658.8,434.5 660.0,443.6 661.3,436.3 662.6,447.7 663.8,443.1 665.1,447.3 666.4,441.7 667.6,451.8 668.9,447.2 670.2,450.7 671.5,447.3 672.7,452.0 674.0,448.5 675.3,452.7 676.5,439.2 677.8,446.7 679.1,443.2 680.3,448.2 681.6,444.3 682.9,446.4 684.2,440.3 685.4,446.6 686.7,430.1 688.0,441.0 689.2,429.9 690.5,446.1 691.8,439.0 693.0,447.1 694.3,442.2 695.6,453.2 696.9,442.8 698.1,445.7 699.4,441.2 700.7,447.5 701.9,443.5 703.2,447.8 704.5,444.0 705.7,453.1 707.0,445.6 708.3,458.2 709.6,442.9 710.8,452.9 712.1,439.4 713.4,446.4 714.6,437.8 715.9,451.2 717.2,444.7 718.4,454.9 719.7,444.7 721.0,459.9 722.3,450.0 723.5,457.6 724.8,452.5 726.1,461.5 727.3,455.0 728.6,458.2 729.9,453.5 731.1,461.3 732.4,448.3 733.7,457.6 735.0,448.6 736.2,457.2 737.5,443.1 738.8,452.8 740.0,444.2 741.3,454.1 742.6,445.0 743.8,455.5 745.1,442.7 746.4,458.3 747.7,452.3 748.9,465.1 750.2,449.0 751.5,458.3 752.7,448.3 754.0,459.5 755.3,441.1 756.5,453.5 757.8,444.1 759.1,461.7 760.4,448.6 761.6,459.7 762.9,456.5 764.2,459.4 765.4,456.2 766.7,458.2 768.0,456.8 769.2,463.8 770.5,452.6 771.8,460.3 773.1,452.0 774.3,463.5 775.6,455.2 776.9,458.1 778.1,454.6 779.4,462.3 780.7,458.1 781.9,464.9 783.2,461.4 784.5,469.5 785.8,464.3 787.0,474.9 788.3,461.0 789.6,471.1 790.8,450.9 792.1,450.2 793.4,444.7 794.6,446.9 795.9,444.7 797.2,448.4 798.5,443.7 799.7,450.9 801.0,438.9 802.3,446.6 803.5,439.5 804.8,446.4 806.1,438.5 807.3,448.1 808.6,438.1 809.9,449.4 811.2,439.8 812.4,436.7 813.7,419.3 815.0,423.5 816.2,412.5 817.5,428.0 818.8,415.6 820.0,431.2 821.3,440.0 822.6,451.1 823.9,443.8 825.1,455.4 826.4,449.2 827.7,456.2 828.9,453.7 830.2,457.6 831.5,454.2 832.7,460.4 834.0,457.3 835.3,464.2 836.6,456.5 837.8,466.3 839.1,460.7 840.4,469.9 841.6,461.8 842.9,464.8 844.2,463.2 845.4,468.1 846.7,461.6 848.0,468.5 849.3,452.9 850.5,450.1 851.8,432.4 853.1,445.3 854.3,433.2 855.6,450.8 856.9,441.4 858.1,449.9 859.4,444.2 860.7,445.0 862.0,443.1 863.2,444.5 864.5,441.2 865.8,443.5 867.0,439.3 868.3,447.5 869.6,443.2 870.8,460.7 872.1,451.8 873.4,464.9 874.7,455.8 875.9,466.6 877.2,459.7 878.5,465.8 879.7,454.9 881.0,464.6 882.3,453.4 883.5,461.0 884.8,455.4 886.1,461.4 887.4,453.2 888.6,462.5 889.9,458.0 891.2,461.3 892.4,451.5 893.7,464.2 895.0,453.6 896.2,459.0 897.5,448.4 898.8,460.5 900.1,451.4 901.3,464.0 902.6,461.2 903.9,475.0 905.1,469.5 906.4,474.4 907.7,469.2 908.9,478.3 910.2,466.4 911.5,472.8 912.8,459.7 914.0,468.6 915.3,461.7 916.6,474.6 917.8,459.4 919.1,454.4 920.4,443.5 921.6,455.5 922.9,446.6 924.2,455.9 925.5,449.9 926.7,466.9 928.0,464.7 929.3,475.5 930.5,460.4 931.8,475.4 933.1,469.6 934.3,485.5 935.6,471.1 936.9,477.9 938.2,465.4 939.4,469.5 940.7,452.7 942.0,462.0 943.2,452.1 944.5,457.3 945.8,449.9 947.0,462.8 948.3,453.9 949.6,468.0 950.9,461.4 952.1,474.6 953.4,464.7 954.7,480.2 955.9,474.1 957.2,479.8 958.5,466.0 959.7,476.0 961.0,459.9 962.3,466.4 963.6,452.8 964.8,461.3 966.1,453.4 967.4,466.9 968.6,467.1 969.9,477.2 971.2,472.6 972.4,478.1 973.7,465.2 975.0,467.7 976.3,457.5 977.5,468.0 978.8,460.9 980.1,465.2 981.3,458.0 982.6,464.1 983.9,459.3 985.1,469.3 986.4,456.6 987.7,470.8 989.0,463.7 990.2,471.3 991.5,456.9 992.8,464.1 994.0,456.1 995.3,461.3 996.6,455.2 997.8,471.4 999.1,464.3 1000.4,469.4 1001.7,465.2 1002.9,477.3 1004.2,464.3 1005.5,474.5 1006.7,466.7 1008.0,478.0 1009.3,456.9 1010.5,465.2 1011.8,461.4 1013.1,469.4 1014.4,460.0 1015.6,469.7 1016.9,461.8 1018.2,472.2 1019.4,461.5 1020.7,475.4 1022.0,469.8 1023.2,477.8 1024.5,471.5 1025.8,481.2 1027.1,471.2 1028.3,482.3 1029.6,463.6 1030.9,462.8 1032.1,445.3 1033.4,450.3 1034.7,446.5 1035.9,449.4 1037.2,445.6 1038.5,461.8 1039.8,451.5 1041.0,464.2 1042.3,454.9 1043.6,467.7 1044.8,469.5 1046.1,472.3 1047.4,470.8 1048.6,473.5 1049.9,469.0 1051.2,468.8 1052.5,454.6 1053.7,457.3 1055.0,451.6 1056.3,471.9 1057.5,464.8 1058.8,471.4 1060.1,461.6 1061.3,471.3 1062.6,457.6 1063.9,464.6 1065.2,455.3 1066.4,456.6 1067.7,455.1 1069.0,468.2 1070.2,455.8 1071.5,469.3 1072.8,457.3 1074.0,470.2 1075.3,458.7 1076.6,477.0 1077.9,463.2 1079.1,475.1 1080.4,468.6 1081.7,477.0" fill="none" stroke="#654C1A" stroke-width="3" stroke-linejoin="miter" stroke-miterlimit="3"/>
<line x1="190" x2="1083.5" y1="585.8" y2="585.8" stroke="#2e2e2e" stroke-width="1.7"/>
<text class="src" x="56" y="711">Source: l2beat.com, Binance Research, as of July 6, 2023</text>
</svg>
</body></html>
